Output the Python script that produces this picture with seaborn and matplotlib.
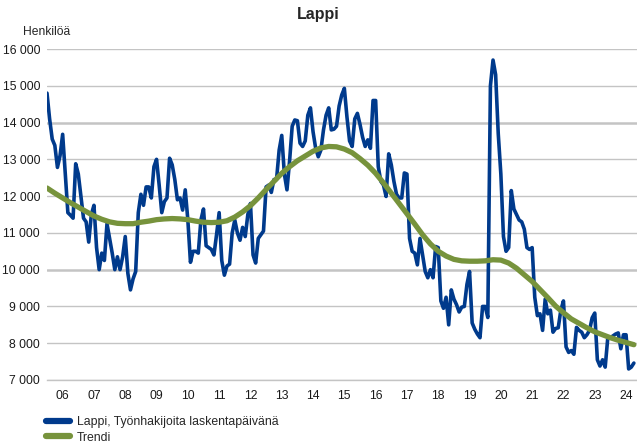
import numpy as np
import matplotlib
matplotlib.use("Agg")
import matplotlib.pyplot as plt
import seaborn as sns

# Lappi, työnhakijoita laskentapäivänä, kuukausittain 1/2006 -> 10/2024
tyonhakijat = [
    # 2006
    14800, 14100, 13550, 13380, 12780, 13100, 13680, 12600, 11550, 11480, 11400, 12880,
    # 2007
    12600, 12000, 11400, 11300, 10750, 11500, 11750, 10600, 10000, 10450, 10250, 11250,
    # 2008
    10850, 10450, 10000, 10350, 10000, 10350, 10900, 9900, 9450, 9750, 9950, 11550,
    # 2009
    12050, 11750, 12250, 12250, 11950, 12800, 13000, 12300, 11550, 11850, 11950, 13030,
    # 2010
    12850, 12450, 11900, 11950, 11620, 12170, 11350, 10200, 10500, 10500, 10450, 11350,
    # 2011
    11650, 10650, 10600, 10550, 10400, 10950, 11550, 10250, 9850, 10100, 10150, 11000,
    # 2012
    11350, 11000, 10800, 11150, 10900, 11500, 11800, 10400, 10180, 10850, 10950, 11050,
    # 2013
    12250, 12300, 12100, 12450, 12450, 13250, 13650, 12600, 12170, 12950, 13900, 14070,
    # 2014
    14050, 13440, 13350, 13500, 14200, 14400, 13750, 13300, 13070, 13250, 13800, 14200,
    # 2015
    14400, 13800, 13820, 13900, 14450, 14750, 14930, 14150, 13500, 13350, 14100, 14250,
    # 2016
    13950, 13600, 13350, 13530, 13300, 14600, 14600, 12800, 12400, 12300, 11990, 13150,
    # 2017
    12850, 12400, 12050, 11950, 11950, 12630, 12600, 10850, 10500, 10450, 10130, 10850,
    # 2018
    10400, 9950, 9780, 10000, 9780, 10630, 10600, 9150, 8950, 9250, 8500, 9450,
    # 2019
    9200, 9050, 8850, 8980, 9000, 9600, 9950, 8550, 8380, 8250, 8150, 9000,
    # 2020
    9000, 8700, 15000, 15700, 15300, 13700, 12600, 10900, 10500, 10600, 12150, 11650,
    # 2021
    11500, 11350, 11300, 11100, 10600, 10550, 10600, 9250, 8750, 8800, 8350, 9200,
    # 2022
    8800, 8900, 8300, 8400, 8420, 8900, 9150, 7900, 7750, 7800, 7700, 8430,
    # 2023
    8350, 8300, 8150, 8230, 8350, 8690, 8820, 7550, 7380, 7550, 7350, 8150,
    # 2024
    8150, 8200, 8250, 8280, 7850, 8230, 8230, 7300, 7350, 7460,
]

# trendi, luettu neljännesvuosittain (1/2006, 4/2006, ...)
trendi = [
    12220, 12080, 11950, 11820, 11700, 11580, 11460, 11370,
    11300, 11260, 11250, 11250, 11290, 11320, 11360, 11380,
    11390, 11380, 11360, 11320, 11290, 11280, 11290, 11330,
    11430, 11570, 11740, 11950, 12180, 12400, 12620, 12800,
    12960, 13090, 13220, 13310, 13350, 13340, 13280, 13180,
    13020, 12840, 12620, 12360, 12080, 11800, 11520, 11240,
    10950, 10700, 10500, 10370, 10280, 10240, 10230, 10230,
    10240, 10270, 10260, 10180, 10040, 9860, 9680, 9460,
    9240, 9010, 8830, 8660, 8540, 8420, 8310, 8230,
    8150, 8080, 8020, 7960,
]

vuodet = list(range(2006, 2025))
y_ticks = list(range(7000, 16001, 1000))

sarja_nimi = "Lappi, Työnhakijoita laskentapäivänä"
sininen = "#003a8c"
vihrea = "#77933c"

sns.set_style("white")
plt.rcParams['font.family'] = ['Liberation Sans', 'DejaVu Sans']

W, H = 637, 446
fig = plt.figure(figsize=(W / 100, H / 100), dpi=100)
ax = fig.add_axes([47 / W, 1 - 380 / H, 590 / W, 331 / H])

kk = 2006 + np.arange(len(tyonhakijat)) / 12
tk = 2006 + np.arange(len(trendi)) * 3 / 12

sns.lineplot(x=kk, y=tyonhakijat, ax=ax, color=sininen, lw=2.6, label=sarja_nimi)
sns.lineplot(x=tk, y=trendi, ax=ax, color=vihrea, lw=3.8, label="Trendi")

ax.set_ylim(7000, 16000)
ax.set_xlim(2006, 2006 + 590 / 31.3)
ax.set_yticks(y_ticks)
ax.set_yticklabels([f"{v:,}".replace(",", " ") for v in y_ticks])
ax.set_xticks([v + 0.5 for v in vuodet])
ax.set_xticklabels([f"{v % 100:02d}" for v in vuodet])

ax.grid(axis="y", color="#c4c4c4", lw=1.0)
ax.set_axisbelow(True)
for v, gl in zip(y_ticks, ax.get_ygridlines()):
    if v in (10000, 14000):
        gl.set_linewidth(1.8)
for s in ("left", "top", "right"):
    ax.spines[s].set_visible(False)
ax.spines["bottom"].set_color("#c4c4c4")
ax.spines["bottom"].set_linewidth(1.0)
ax.tick_params(axis="both", length=0, labelsize=8.7, colors="#1a1a1a")
ax.tick_params(axis="y", pad=5)
ax.tick_params(axis="x", pad=7)
ax.set_xlabel("")
ax.set_ylabel("")

fig.text(0.5, 1 - 14 / H, "Lappi", ha="center", va="center",
         fontsize=11.5, fontweight="bold")
fig.text(23 / W, 1 - 32 / H, "Henkilöä", ha="left", va="center", fontsize=8.7)

handles, labels = ax.get_legend_handles_labels()
ax.get_legend().remove()
leg = fig.legend(handles, labels, loc="upper left",
                 bbox_to_anchor=(46 / W, 1 - 416 / H), frameon=False,
                 fontsize=8.8, handlelength=2.0, handletextpad=0.5,
                 labelspacing=0.3, borderpad=0, borderaxespad=0)
for line in leg.get_lines():
    line.set_linewidth(4.5)

fig.savefig("out.png", dpi=100)
